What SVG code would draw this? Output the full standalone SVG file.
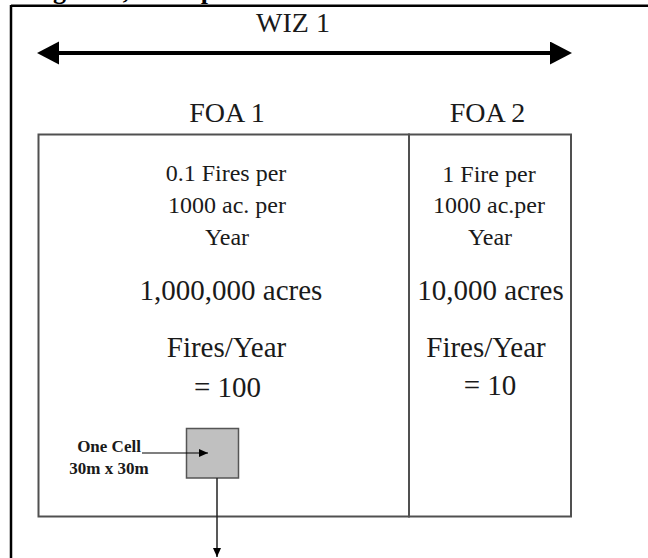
<svg xmlns="http://www.w3.org/2000/svg" width="648" height="558" viewBox="0 0 648 558">
  <style>
    .t { font-family: "Liberation Serif", "Times New Roman", serif; fill: #1a1a1a; text-anchor: middle; }
    .s24 { font-size: 24px; }
    .s28 { font-size: 28px; }
    .s29 { font-size: 29px; }
    .b17 { font-size: 17px; font-weight: bold; }
    .box { fill: none; stroke: #505050; stroke-width: 2; }
    .frame { stroke: #000; stroke-width: 2.5; fill: none; }
  </style>
  <defs>
    <marker id="bigHead" markerUnits="userSpaceOnUse" markerWidth="24" markerHeight="24" refX="7" refY="11.5" orient="auto-start-reverse">
      <path d="M0,0 L22,11.5 L0,23 z" fill="#000"/>
    </marker>
    <marker id="smallHead" markerUnits="userSpaceOnUse" markerWidth="10" markerHeight="10" refX="9" refY="4" orient="auto">
      <path d="M0,0 L9,4 L0,8 z" fill="#000"/>
    </marker>
  </defs>
  <rect width="648" height="558" fill="#fff"/>

  <g id="title">
    <text x="30" y="-1" style="font-family: 'Liberation Serif', serif; font-size: 26px; font-weight: bold; fill: #000;">Figure 1, Example</text>
  </g>

  <g id="frame">
    <line class="frame" x1="11" y1="5.8" x2="648" y2="5.8"/>
    <line class="frame" x1="11" y1="5" x2="11" y2="558"/>
  </g>

  <g id="wiz">
    <text class="t s28" x="293" y="32">WIZ 1</text>
  </g>

  <g id="foa1">
    <text class="t s28" x="227" y="121.5">FOA 1</text>
    <rect class="box" x="38.5" y="134.5" width="370.5" height="382"/>
    <text class="t s24" x="226" y="181">0.1 Fires per</text>
    <text class="t s24" x="227" y="213">1000 ac. per</text>
    <text class="t s24" x="227" y="245">Year</text>
    <text class="t s29" x="231" y="300">1,000,000 acres</text>
    <text class="t s29" x="226.5" y="356.5">Fires/Year</text>
    <text class="t s29" x="227.5" y="396.5">= 100</text>
  </g>

  <g id="foa2">
    <text class="t s28" x="487.5" y="121.5">FOA 2</text>
    <rect class="box" x="409" y="134.5" width="162" height="382"/>
    <text class="t s24" x="489" y="181.5">1 Fire per</text>
    <text class="t s24" x="489" y="213">1000 ac.per</text>
    <text class="t s24" x="490" y="245">Year</text>
    <text class="t s29" x="490.5" y="300">10,000 acres</text>
    <text class="t s29" x="486" y="356.5">Fires/Year</text>
    <text class="t s29" x="490" y="395">= 10</text>
  </g>

  <g id="cell">
    <rect x="186.5" y="428.5" width="52" height="49.5" fill="#c0c0c0" stroke="#555" stroke-width="1.5"/>
    <text class="t b17" x="109" y="452">One Cell</text>
    <text class="t b17" x="109" y="474">30m x 30m</text>
  </g>

  <g id="connectors">
    <line x1="52" y1="53" x2="557" y2="53" stroke="#000" stroke-width="4" marker-start="url(#bigHead)" marker-end="url(#bigHead)"/>
    <line x1="142" y1="453" x2="208" y2="453" stroke="#000" stroke-width="1.2" marker-end="url(#smallHead)"/>
    <line x1="217" y1="478" x2="217" y2="557" stroke="#222" stroke-width="1.5" marker-end="url(#smallHead)"/>
  </g>
</svg>
